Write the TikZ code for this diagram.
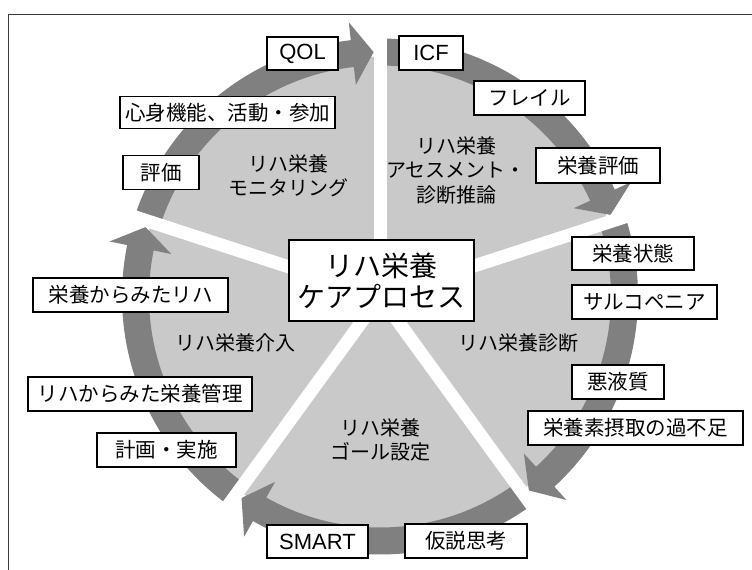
\documentclass[tikz,border=0pt]{standalone}
\usepackage{fontspec}
\setmainfont{Liberation Sans}
\newfontfamily\jp{Noto Sans CJK JP}
\usetikzlibrary{calc}
\definecolor{bandgray}{RGB}{128,128,128}
\definecolor{piegray}{RGB}{201,201,201}
\definecolor{framegray}{RGB}{60,60,60}
\begin{document}
\begin{tikzpicture}[x=1pt,y=1pt,
  lbl/.style={draw=black, line width=1.4pt, fill=white, inner sep=0pt, align=center,
              font=\jp\fontsize{20.5}{24}\selectfont},
  lat/.style={lbl, font=\fontsize{22}{26}\selectfont},
  seglbl/.style={align=center, inner sep=0pt, font=\jp\fontsize{20}{24.5}\selectfont},
  centerbox/.style={draw=black, line width=1.4pt, fill=white, inner sep=0pt, align=center,
              font=\jp\fontsize{28}{31}\selectfont, minimum width=185, minimum height=81},
  gapline/.style={white, line width=13pt}]
\useasboundingbox (0,0) rectangle (752,-570);
% frame
\draw[framegray, line width=1pt] (8,-570) -- (8,-14) -- (752,-14);
\coordinate (C) at (380,-296.5);
% pie
\fill[piegray] (C) circle[radius=240];
\begin{scope}[shift={(C)}]
  \foreach \gs/\te in {234/163.5, 162/91.5, 90/19.5, 18/-52.5, -54/-124.5}{
    \pgfmathsetmacro\hb{\te+5}
    \fill[bandgray] (\gs:258) arc[start angle=\gs, end angle=\hb, radius=258]
      -- (\hb:276) -- (\te:244.5) -- (\hb:213) -- (\hb:231)
      arc[start angle=\hb, end angle=\gs, radius=231] -- cycle;
  }
  \foreach \g in {90,18,-54,-126,162}
    \draw[gapline] (0,0) -- (\g:262);
\end{scope}
% center
\node[centerbox] (center) at (381.5,-280.5) {リハ栄養\\ケアプロセス};
% segment labels
\node[seglbl] (monitor) at (288,-176) {リハ栄養\\モニタリング};
\node[seglbl] (assess) at (456,-170) {リハ栄養\\アセスメント・\\診断推論};
\node[seglbl] (diag) at (518,-343) {リハ栄養診断};
\node[seglbl] (goal) at (380,-440) {リハ栄養\\ゴール設定};
\node[seglbl] (interv) at (235,-343) {リハ栄養介入};
% boxes
\node[lat, minimum width=71, minimum height=33] (qol) at (302.5,-53.5) {QOL};
\node[lbl, minimum width=215, minimum height=32] (shinshin) at (227.5,-112.5) {心身機能、活動・参加};
\node[lbl, minimum width=76, minimum height=34] (hyoka) at (161,-172.5) {評価};
\node[lat, minimum width=64, minimum height=34] (icf) at (431,-53) {ICF};
\node[lbl, minimum width=111, minimum height=34] (frail) at (529.5,-98) {フレイル};
\node[lbl, minimum width=124, minimum height=35] (eiyohyoka) at (598,-165.5) {栄養評価};
\node[lbl, minimum width=122, minimum height=33] (jotai) at (633,-253.5) {栄養状態};
\node[lbl, minimum width=145, minimum height=34] (sarco) at (644.5,-302) {サルコペニア};
\node[lbl, minimum width=92, minimum height=34] (cachexia) at (618,-382) {悪液質};
\node[lbl, minimum width=215, minimum height=34] (intake) at (635.5,-428) {栄養素摂取の過不足};
\node[lbl, minimum width=122, minimum height=34] (kasetsu) at (466,-541) {仮説思考};
\node[lat, minimum width=101, minimum height=33] (smart) at (317.5,-541.5) {SMART};
\node[lbl, minimum width=139, minimum height=34] (keikaku) at (166.5,-450) {計画・実施};
\node[lbl, minimum width=224, minimum height=34] (kanri) at (140,-394) {リハからみた栄養管理};
\node[lbl, minimum width=195, minimum height=34] (rehab) at (130.5,-295) {栄養からみたリハ};
\end{tikzpicture}
\end{document}
